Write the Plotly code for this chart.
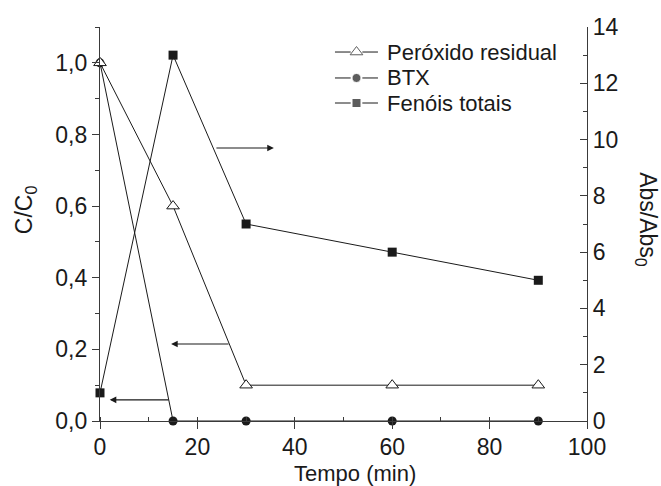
import plotly.graph_objects as go

tempo = [0, 15, 30, 60, 90]
peroxido = [1.0, 0.6, 0.1, 0.1, 0.1]
btx = [1.0, 0.0, 0.0, 0.0, 0.0]
fenois = [1.0, 13.0, 7.0, 6.0, 5.0]

series_names = ["Peróxido residual", "BTX", "Fenóis totais"]
x_ticks = [0, 20, 40, 60, 80, 100]
left_ticks = [0.0, 0.2, 0.4, 0.6, 0.8, 1.0]
right_ticks = [0, 2, 4, 6, 8, 10, 12, 14]

FONT = "Liberation Sans, Arial, sans-serif"
INK = "#1a1a1a"
AX = "#3a3a3a"

styles = [
    dict(symbol="triangle-up", size=11, color="white", line=dict(width=1, color=INK)),
    dict(symbol="circle", size=9, color=INK),
    dict(symbol="square", size=9, color=INK),
]

fig = go.Figure()
fig.add_trace(go.Scatter(x=tempo, y=btx, name=series_names[1], mode="lines+markers",
                         line=dict(color=INK, width=1), marker=styles[1], cliponaxis=False))
fig.add_trace(go.Scatter(x=tempo, y=peroxido, name=series_names[0], mode="lines+markers",
                         line=dict(color=INK, width=1), marker=styles[0], cliponaxis=False))
fig.add_trace(go.Scatter(x=tempo, y=fenois, name=series_names[2], mode="lines+markers", yaxis="y2",
                         line=dict(color=INK, width=1), marker=styles[2], cliponaxis=False))

# hand-drawn legend (line - marker - line) on hidden overlay axes (plot-area fractions)
leg_rows = [0.9365, 0.8706, 0.8071]
lx0, lx1, lmid, gap = 0.4825, 0.5708, 0.5267, 0.012
for name, st, ry in zip(series_names, styles, leg_rows):
    fig.add_trace(go.Scatter(
        x=[lx0, lmid - gap, None, lmid + gap, lx1, None, lmid],
        y=[ry, ry, None, ry, ry, None, ry],
        xaxis="x2", yaxis="y3", mode="lines+markers", showlegend=False, hoverinfo="skip",
        line=dict(color=INK, width=1),
        marker=dict(st, size=[0, 0, 0, 0, 0, 0, st["size"]]),
        cliponaxis=False))
    fig.add_annotation(text=name, xref="paper", yref="paper", x=0.5852, y=ry,
                       xanchor="left", yanchor="middle", showarrow=False,
                       font=dict(size=22, color=INK, family=FONT))

arrow = dict(showarrow=True, arrowhead=2, arrowsize=1.2, arrowwidth=1.1,
             arrowcolor=INK, text="", axref="x", xref="x")
fig.add_annotation(x=35.7, y=9.7, ax=23.6, ay=9.7, yref="y2", ayref="y2", **arrow)
fig.add_annotation(x=14.6, y=0.215, ax=26.7, ay=0.215, yref="y", ayref="y", **arrow)
fig.add_annotation(x=2.0, y=0.059, ax=14.4, ay=0.059, yref="y", ayref="y", **arrow)

fig.add_annotation(text="C/C<sub>0</sub>", xref="paper", yref="paper", x=-0.154, y=0.535,
                   xanchor="center", yanchor="middle",
                   showarrow=False, textangle=-90, font=dict(size=23, color=INK, family=FONT))
fig.add_annotation(text="Abs/Abs<sub>0</sub>", xref="paper", yref="paper", x=1.123, y=0.51,
                   xanchor="center", yanchor="middle",
                   showarrow=False, textangle=90, font=dict(size=23, color=INK, family=FONT))
fig.add_annotation(text="Tempo (min)", xref="paper", yref="paper", x=0.524, y=-0.132,
                   xanchor="center", yanchor="middle", borderpad=0,
                   showarrow=False, font=dict(size=22, color=INK, family=FONT))

fig.update_layout(
    width=661, height=486,
    margin=dict(l=100, r=74, t=27, b=65),
    paper_bgcolor="white", plot_bgcolor="white",
    separators=",.",
    font=dict(family=FONT, size=23, color=INK),
    showlegend=False,
    xaxis=dict(range=[0, 100], tickvals=x_ticks, showgrid=False, zeroline=False,
               showline=True, linecolor=AX, linewidth=1.2, ticklabelstandoff=-2,
               ticks="outside", ticklen=7, tickcolor=AX, tickwidth=1.2,
               minor=dict(dtick=10, ticks="inside", ticklen=4, tickcolor=AX, tickwidth=1)),
    xaxis2=dict(range=[0, 1], overlaying="x", visible=False, fixedrange=True),
    yaxis=dict(range=[0, 1.1], tickvals=left_ticks, tickformat=".1f", showgrid=False,
               zeroline=False, showline=True, linecolor=AX, linewidth=1.2,
               ticks="outside", ticklen=7, tickcolor=AX, tickwidth=1.2,
               minor=dict(dtick=0.1, ticks="outside", ticklen=4, tickcolor=AX, tickwidth=1)),
    yaxis2=dict(range=[0, 14], tickvals=right_ticks, overlaying="y", side="right",
                showgrid=False, zeroline=False, showline=True, linecolor=AX, linewidth=1.2,
                ticks="inside", ticklen=7, tickcolor=AX, tickwidth=1.2,
                minor=dict(dtick=1, ticks="inside", ticklen=4, tickcolor=AX, tickwidth=1)),
    yaxis3=dict(range=[0, 1], overlaying="y", visible=False, fixedrange=True),
)

fig.write_html("out.html", config={"displayModeBar": False},
               post_script="document.body.style.margin='0';")
